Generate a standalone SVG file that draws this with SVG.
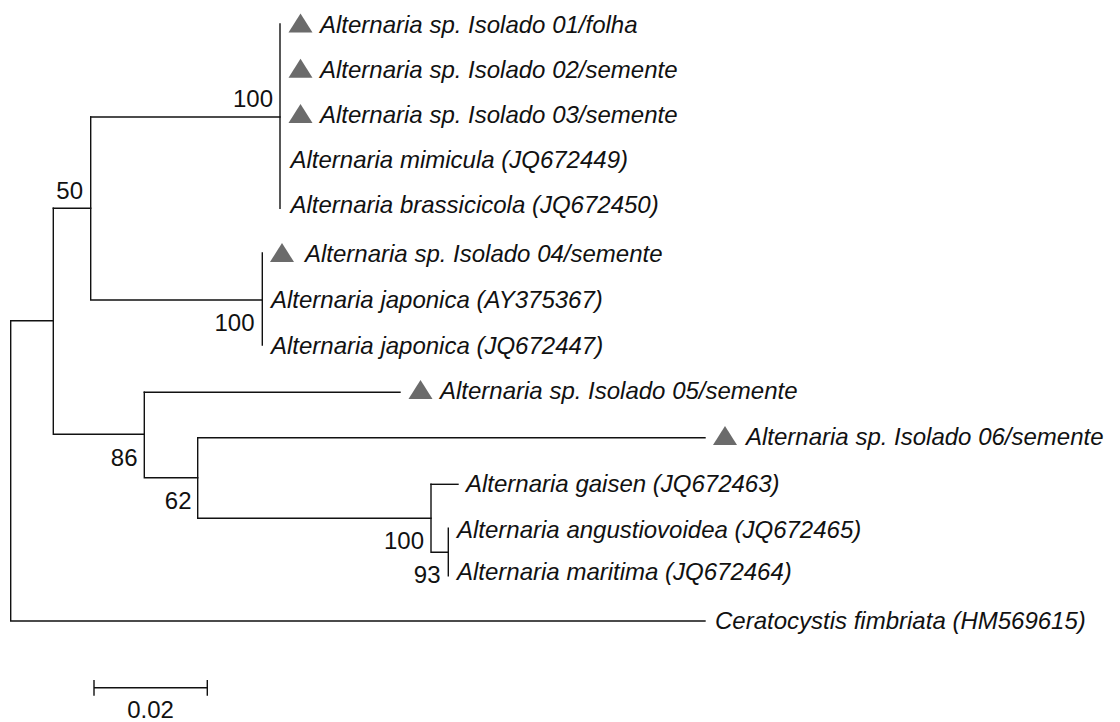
<svg xmlns="http://www.w3.org/2000/svg" xmlns:xlink="http://www.w3.org/1999/xlink" width="1120" height="722" viewBox="0 0 1120 722">
<style>
.br{fill:none;stroke:#111;stroke-width:1.4;stroke-linecap:square}
.lb{font-family:"Liberation Sans",Arial,sans-serif;font-style:italic;font-size:24px;fill:#111}
.bs{font-family:"Liberation Sans",Arial,sans-serif;font-size:24px;fill:#111;text-anchor:end}
.tr{fill:#6b6b6b}
</style>
<defs>
<path id="tri" d="M0,0 L24,0 L12,-19 Z"/>
</defs>
<rect width="1120" height="722" fill="#fff"/>
<g id="connectors" class="br">
<path d="M10.7,320.7 V621 H705"/>
<path d="M10.7,320.7 H53.3"/>
<path d="M53.3,208.3 V434.3 H144.3"/>
<path d="M53.3,208.3 H90.7"/>
<path d="M90.7,117 V300 H262.3"/>
<path d="M90.7,117 H280"/>
<path d="M280,24 V208.3"/>
<path d="M262.3,253 V345"/>
<path d="M144.3,392.3 V477.7 H197.7"/>
<path d="M144.3,392.3 H400"/>
<path d="M197.7,437.7 V518.3 H431"/>
<path d="M197.7,437.7 H705"/>
<path d="M431,484.3 V552.3 H448.3"/>
<path d="M431,484.3 H458"/>
<path d="M448.3,528.3 V575.7"/>
</g>
<g id="leaf1"><use xlink:href="#tri" class="tr" x="288.5" y="32.5"/><text class="lb" x="320" y="32.5">Alternaria sp. Isolado 01/folha</text></g>
<g id="leaf2"><use xlink:href="#tri" class="tr" x="288.5" y="77.8"/><text class="lb" x="320" y="77.8">Alternaria sp. Isolado 02/semente</text></g>
<g id="leaf3"><use xlink:href="#tri" class="tr" x="288.5" y="123"/><text class="lb" x="320" y="123">Alternaria sp. Isolado 03/semente</text></g>
<g id="leaf4"><text class="lb" x="290.5" y="168.2">Alternaria mimicula (JQ672449)</text></g>
<g id="leaf5"><text class="lb" x="290.5" y="213.3">Alternaria brassicicola (JQ672450)</text></g>
<g id="leaf6"><use xlink:href="#tri" class="tr" x="270" y="262"/><text class="lb" x="305" y="262">Alternaria sp. Isolado 04/semente</text></g>
<g id="leaf7"><text class="lb" x="271" y="308">Alternaria japonica (AY375367)</text></g>
<g id="leaf8"><text class="lb" x="271" y="354">Alternaria japonica (JQ672447)</text></g>
<g id="leaf9"><use xlink:href="#tri" class="tr" x="408.5" y="399"/><text class="lb" x="440" y="399">Alternaria sp. Isolado 05/semente</text></g>
<g id="leaf10"><use xlink:href="#tri" class="tr" x="713" y="445"/><text class="lb" x="746" y="445">Alternaria sp. Isolado 06/semente</text></g>
<g id="leaf11"><text class="lb" x="466" y="492">Alternaria gaisen (JQ672463)</text></g>
<g id="leaf12"><text class="lb" x="457" y="537.5">Alternaria angustiovoidea (JQ672465)</text></g>
<g id="leaf13"><text class="lb" x="457" y="580">Alternaria maritima (JQ672464)</text></g>
<g id="leaf14"><text class="lb" x="715" y="629">Ceratocystis fimbriata (HM569615)</text></g>
<g id="support">
<text class="bs" x="273" y="107">100</text>
<text class="bs" x="83" y="199">50</text>
<text class="bs" x="254.5" y="331">100</text>
<text class="bs" x="137.5" y="466">86</text>
<text class="bs" x="191.5" y="509">62</text>
<text class="bs" x="424" y="549">100</text>
<text class="bs" x="440.5" y="583">93</text>
</g>
<g id="scalebar">
<path class="br" d="M94,687.7 H207.3 M94,680.7 V695 M207.3,680.7 V695"/>
<text x="150.5" y="718" font-family="Liberation Sans, Arial, sans-serif" font-size="24" fill="#111" text-anchor="middle">0.02</text>
</g>
</svg>
